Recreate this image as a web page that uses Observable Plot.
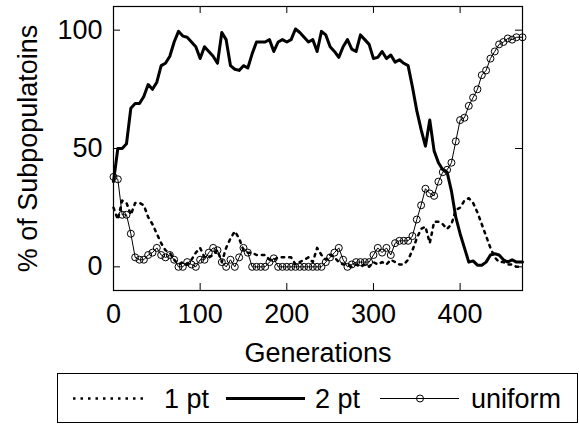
<!DOCTYPE html>
<html><head><meta charset="utf-8">
<script src="https://cdn.jsdelivr.net/npm/d3@7"></script>
<script src="https://cdn.jsdelivr.net/npm/@observablehq/plot@0.6"></script>
<style>
body{margin:0;background:#fff;font-family:"Liberation Sans",Arial,sans-serif;}
#wrap{position:relative;width:579px;height:424px;overflow:hidden;}
#legend{position:absolute;left:57px;top:373px;width:519px;height:48px;border:1px solid #000;}
#legend .t{position:absolute;top:12px;font-size:27px;line-height:27px;color:#000;white-space:nowrap;}
#legend svg{position:absolute;left:0;top:0;}
</style></head>
<body><div id="wrap"><div id="chart"></div><div id="legend"></div></div>
<script>
const generations = [...d3.range(0, 470, 5), 472];
const onePt = [25,20,28,27,22,27,27,26,21,18,
  14,10,7,6,3,1,2,1,3,6,
  8,4,4,5,7,2,8,12,15,12,
  7,6,6,5,5,5,3,3,4,4,
  4,4,1,2,3,4,2,8,5,3,
  5,4,2,1,1,0,1,0,1,0,
  2,1,2,1,3,2,1,1,3,7,
  12,16,17,10,19,19,18,16,18,24,
  25,28,29,27,23,18,13,8,4,2,
  2,1,1,0,0];
const twoPt = [36,50,50,52,67,69,69,72,77,75,
  78,85,86,89,95,99.5,97.5,97,95,93,
  88,93,91,89,86,99,96,85,83.5,83,
  85,84,90,95,95,95,96,91,95,96,
  95,96,100.5,99,97,95,96,91,99.5,98,
  93,91,88.5,93,96,92,91,98,96,94,
  88,88.5,91,88,89.5,86.5,87.5,86,85,76,
  66,58,51,62,49,44,41,40,32,21,
  14,8,2,2.5,0.7,0.7,2,5,5.5,5,
  3,2,3,2,2];
const uniform = [38,37,22,22,14,4,3,3,5,6,
  8,5,4,5,3,0,0,2,1,0,
  3,3,6,8,7,2,0,3,0,4,
  8,6,0,0,0,0,2,3.6,0,0,
  0,0,0,0,0,0,0,0,0,2,
  4,6,8,3,0,1,2,2,2,2,
  5,8,6,8,5,10,11,11,11,13,
  20,26,33,31,30,36,40,41,44,53,
  62,63,68,71.5,75,81,83,88,91,94,
  95,96.5,96,97,97];
const xTicks = [0,100,200,300,400];
const yTicks = [0,50,100];

const rows = (vals) => generations.map((g, i) => ({g, v: vals[i]}));
const W = 579, H = 370, mL = 113, mR = 57, mT = 6, mB = 80;
const FONT = '"Liberation Sans", Arial, sans-serif';

const chart = Plot.plot({
  width: W, height: H,
  marginLeft: mL, marginRight: mR, marginTop: mT, marginBottom: mB,
  style: {fontFamily: FONT, fontSize: "27px", color: "#000", background: "#fff"},
  x: {domain: [0, 472]},
  y: {domain: [-10, 110]},
  marks: [
    Plot.line(rows(onePt), {x: "g", y: "v", stroke: "#000", strokeWidth: 2.5, strokeDasharray: "2.5,5"}),
    Plot.line(rows(twoPt), {x: "g", y: "v", stroke: "#000", strokeWidth: 3}),
    Plot.line(rows(uniform), {x: "g", y: "v", stroke: "#000", strokeWidth: 1}),
    Plot.dot(rows(uniform), {x: "g", y: "v", r: 3.5, stroke: "#000", fill: "none", strokeWidth: 1}),
    Plot.frame({stroke: "#000", strokeWidth: 1.2}),
    Plot.tickX(xTicks, {x: d => d, stroke: "#000", insetTop: H - mT - mB - 7}),
    Plot.tickX(xTicks, {x: d => d, stroke: "#000", insetBottom: H - mT - mB - 7}),
    Plot.tickY(yTicks, {y: d => d, stroke: "#000", insetRight: W - mL - mR - 7}),
    Plot.tickY(yTicks, {y: d => d, stroke: "#000", insetLeft: W - mL - mR - 7}),
    Plot.axisX(xTicks, {tickSize: 0, tickPadding: 13, fontSize: 27, label: "Generations", labelAnchor: "center", labelOffset: 71, labelArrow: "none"}),
    Plot.axisY(yTicks, {tickSize: 0, tickPadding: 11, fontSize: 27, label: "% of Subpopulatoins", labelAnchor: "center", labelOffset: 96, labelArrow: "none"})
  ]
});
document.getElementById("chart").appendChild(chart);

// legend
const leg = document.getElementById("legend");
const ns = "http://www.w3.org/2000/svg";
const sw = document.createElementNS(ns, "svg");
sw.setAttribute("width", 519); sw.setAttribute("height", 48);
sw.innerHTML =
  '<line x1="15" x2="89" y1="24.5" y2="24.5" stroke="#000" stroke-width="2.5" stroke-dasharray="2.5,5"/>' +
  '<line x1="168" x2="247" y1="24.5" y2="24.5" stroke="#000" stroke-width="3"/>' +
  '<line x1="322" x2="401" y1="24.5" y2="24.5" stroke="#000" stroke-width="1"/>' +
  '<circle cx="362" cy="24.5" r="3.5" stroke="#000" fill="none" stroke-width="1"/>';
leg.appendChild(sw);
const labels = [["1 pt", 106], ["2 pt", 257], ["uniform", 413]];
for (const [txt, x] of labels) {
  const s = document.createElement("span");
  s.className = "t"; s.style.left = x + "px"; s.textContent = txt;
  leg.appendChild(s);
}
</script></body></html>
